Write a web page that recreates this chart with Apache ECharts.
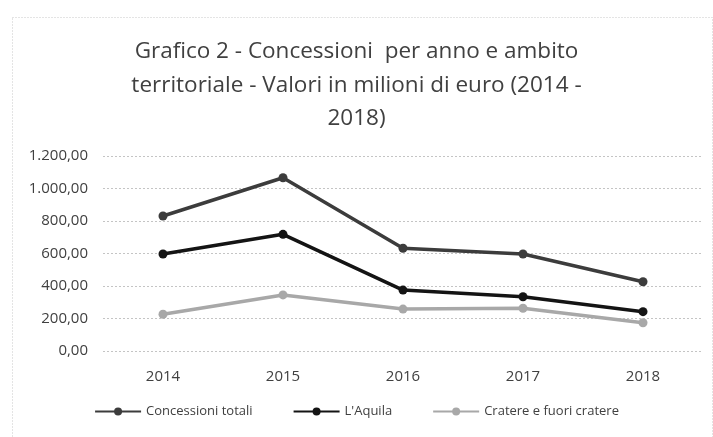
<!DOCTYPE html>
<html>
<head>
<meta charset="utf-8">
<script src="https://cdn.jsdelivr.net/npm/echarts@6/dist/echarts.min.js"></script>
<style>
html,body{margin:0;padding:0;background:#fff;}
#chart{width:713px;height:437px;}
</style>
</head>
<body>
<div id="chart"></div>
<script>
const categories = ['2014', '2015', '2016', '2017', '2018'];
const concessioniTotali = [831, 1066, 632, 597, 426];
const lAquila = [597, 718, 375, 334, 242];
const cratere = [226, 345, 258, 263, 174];
const seriesNames = ['Concessioni totali', "L'Aquila", 'Cratere e fuori cratere'];
const titleText = 'Grafico 2 - Concessioni  per anno e ambito\nterritoriale - Valori in milioni di euro (2014 -\n2018)';

function fmt(v) {
  const parts = v.toFixed(2).split('.');
  parts[0] = parts[0].replace(/\B(?=(\d{3})+(?!\d))/g, '.');
  return parts[0] + ',' + parts[1];
}

const chart = echarts.init(document.getElementById('chart'), null, {renderer: 'canvas'});
const font = '"Open Sans", "Liberation Sans", sans-serif';
const colors = ['#3c3c3c', '#141414', '#a8a8a8'];

function mkSeries(name, data, color) {
  return {
    name: name, type: 'line', data: data,
    symbol: 'circle', symbolSize: 9,
    lineStyle: {width: 3.5, color: color},
    itemStyle: {color: color},
    emphasis: {disabled: true},
    animation: false
  };
}

chart.setOption({
  animation: false,
  backgroundColor: '#fff',
  graphic: [{
    type: 'rect', left: 10, top: 15, silent: true,
    shape: {width: 700, height: 420},
    style: {fill: 'none', stroke: '#c8c8c8', lineWidth: 1, lineDash: [1, 2]}
  }],
  title: {
    text: titleText,
    left: 'center', top: 30,
    textStyle: {fontFamily: font, fontSize: 22.5, fontWeight: 'normal', color: '#404040', lineHeight: 33.5}
  },
  legend: {
    bottom: 14, left: 'center',
    itemWidth: 46, itemHeight: 10, itemGap: 40,
    textStyle: {fontFamily: font, fontSize: 13, color: '#404040'},
    data: seriesNames
  },
  grid: {left: 103, right: 10, top: 156, bottom: 86},
  xAxis: {
    type: 'category', data: categories, boundaryGap: true,
    axisLine: {show: false}, axisTick: {show: false},
    axisLabel: {fontFamily: font, fontSize: 15, color: '#404040', margin: 18}
  },
  yAxis: {
    type: 'value', min: 0, max: 1200, interval: 200,
    axisLine: {show: false}, axisTick: {show: false},
    axisLabel: {fontFamily: font, fontSize: 15, color: '#404040', margin: 15, formatter: fmt},
    splitLine: {lineStyle: {color: '#c4c4c4', type: [2, 2], width: 1}}
  },
  series: [
    mkSeries(seriesNames[0], concessioniTotali, colors[0]),
    mkSeries(seriesNames[1], lAquila, colors[1]),
    mkSeries(seriesNames[2], cratere, colors[2])
  ]
});
</script>
</body>
</html>
